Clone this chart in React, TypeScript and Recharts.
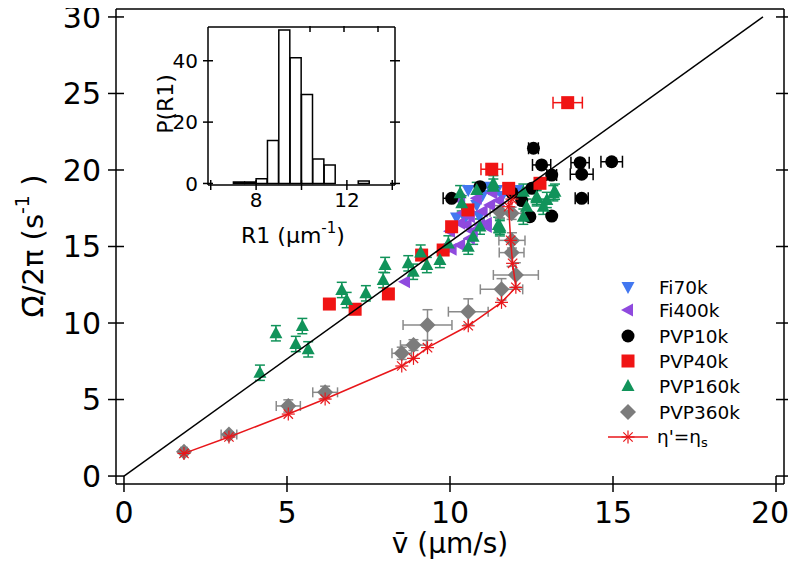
import React from "react";
import { ScatterChart, Scatter, XAxis, YAxis, ErrorBar, BarChart, Bar } from "recharts";

const FONT = "'DejaVu Sans', 'Liberation Sans', sans-serif";

// main axes
const xTicks = [0, 5, 10, 15, 20];
const yTicks = [0, 5, 10, 15, 20, 25, 30];

// inset histogram of R1 (um^-1), bins 0.5 wide
const binCenters = [7.25, 7.75, 8.25, 8.75, 9.25, 9.75, 10.25, 10.75, 11.25, 11.75, 12.25, 12.75];
const binCounts = [0.5, 0.5, 1.5, 14, 50, 41, 29, 8, 6, 0, 0, 0.8];
const insetXTicks = [6, 8, 10, 12, 14];
const insetXLabels = [8, 12];
const insetYTicks = [0, 20, 40];

// [v, Omega/2pi]
const fi70k = [
  [10.46, 16.84], [10.56, 18.69], [11.0, 18.37], [12.05, 18.69], [11.43, 18.69],
  [10.82, 17.71], [10.2, 16.9], [11.6, 18.3], [11.2, 18.9], [10.9, 17.0],
];
const fi400k = [
  [8.62, 12.7], [10.05, 14.82], [10.31, 15.1], [10.61, 15.54], [10.92, 16.41],
  [11.13, 16.52], [10.51, 16.41], [10.31, 18.04], [10.82, 18.15], [11.23, 17.71],
  [10.61, 16.95], [11.13, 16.3], [10.31, 16.52], [9.85, 15.0], [10.0, 16.0],
  [11.5, 18.0], [11.0, 17.3], [10.7, 16.0], [11.3, 18.5], [10.4, 17.2],
];
// [v, Omega/2pi, v error]
const pvp10k = [
  [10.05, 18.15, 0.26], [12.56, 21.42, 0.15], [12.81, 20.33, 0.28], [13.12, 19.67, 0.15],
  [13.12, 16.99, 0], [13.99, 20.48, 0.28], [14.04, 19.72, 0.35], [14.96, 20.54, 0.33],
  [14.04, 18.15, 0.2], [12.51, 18.8, 0], [12.45, 16.95, 0], [10.92, 18.91, 0],
  [12.2, 18.0, 0], [11.9, 18.5, 0],
];
const pvp40k = [
  [6.3, 11.24, 0], [7.09, 10.9, 0], [8.11, 11.9, 0], [9.13, 14.44, 0], [9.79, 14.77, 0],
  [10.05, 16.29, 0], [10.55, 17.39, 0], [11.28, 20.05, 0.33], [13.61, 24.4, 0.45],
  [12.76, 19.13, 0], [11.8, 18.8, 0],
];
// [v, Omega/2pi, Omega error]
const pvp160k = [
  [4.17, 6.75, 0.5], [4.66, 9.33, 0.5], [5.27, 8.63, 0.5], [5.47, 9.8, 0.5], [5.65, 8.28, 0.5],
  [6.68, 12.16, 0.5], [6.83, 11.5, 0.5], [7.42, 11.94, 0.5], [8.01, 13.79, 0.5], [7.95, 12.81, 0.5],
  [8.72, 13.9, 0.5], [8.87, 13.35, 0.5], [9.29, 13.79, 0.5], [9.69, 14.12, 0.5], [10.56, 14.99, 0.5],
  [10.71, 15.64, 0.5], [11.53, 16.19, 0.5], [11.33, 19.13, 0.5], [11.53, 16.3, 0.5], [13.22, 18.58, 0.5],
  [12.97, 18.04, 0.5], [12.66, 18.25, 0.5], [12.35, 17.6, 0.5], [12.25, 16.95, 0.5], [12.86, 17.6, 0.5],
  [11.33, 18.91, 0.5], [10.82, 18.69, 0.5], [10.31, 18.48, 0.5], [12.25, 18.58, 0.5], [13.17, 18.48, 0.5],
  [12.66, 18.15, 0.5], [11.48, 16.41, 0.5], [10.92, 16.3, 0.5], [10.36, 17.82, 0.5], [9.1, 14.6, 0.5],
  [9.95, 15.2, 0.5],
];
// [v, Omega/2pi, v error, Omega error]
const pvp360k = [
  [1.84, 1.59, 0.1, 0.1], [3.22, 2.72, 0.24, 0.15], [5.04, 4.58, 0.37, 0.4], [6.17, 5.47, 0.38, 0.4],
  [8.52, 8.02, 0.3, 0.4], [8.88, 8.56, 0.4, 0.35], [9.31, 9.87, 0.75, 1.0], [10.56, 10.74, 0.61, 0.84],
  [11.58, 12.2, 0.65, 0.7], [12.02, 13.14, 0.69, 0.8], [11.89, 14.6, 0.38, 0.9], [11.9, 15.4, 0.4, 0.5],
  [11.53, 17.27, 0.3, 0.4], [11.89, 17.17, 0.3, 0.4],
];
// model curve eta' = eta_s
const etaS = [
  [1.84, 1.48], [3.22, 2.55], [5.04, 4.05], [6.17, 5.03], [8.52, 7.19], [8.88, 7.69],
  [9.31, 8.39], [10.56, 9.82], [11.58, 11.35], [12.02, 12.33], [11.92, 13.9], [11.86, 15.4],
  [11.8, 17.6], [11.9, 18.1],
];
const slopeLine = [[0, 0], [19.6, 30]];

const legendNames = ["Fi70k", "Fi400k", "PVP10k", "PVP40k", "PVP160k", "PVP360k"];

const C = {
  blue: "#4277f0",
  purple: "#8f4ade",
  black: "#000000",
  red: "#f01414",
  green: "#11935a",
  gray: "#7c7c7c",
  line: "#e8161a",
};

const pts = (a: number[][]) => a.map(([x, y, e1, e2]) => ({ x, y, e1, e2 }));
const hist = binCenters.map((c, i) => ({ c, n: binCounts[i] }));

type Side = "bottom" | "top" | "left" | "right";
const crossTick =
  (side: Side, len: number, fontSize = 0, gap = 0, only?: number[], lastShift = 0) =>
  (p: any) => {
    const { x, y, payload, index, visibleTicksCount } = p;
    const v = payload.value;
    const show = fontSize > 0 && (!only || only.includes(v));
    const horiz = side === "bottom" || side === "top";
    const tx = index === visibleTicksCount - 1 ? x + lastShift : x;
    return (
      <g>
        {horiz ? (
          <line x1={x} x2={x} y1={y - len} y2={y + len} stroke="#000" strokeWidth={1.5} />
        ) : (
          <line x1={x - len} x2={x + len} y1={y} y2={y} stroke="#000" strokeWidth={1.5} />
        )}
        {show && side === "bottom" && (
          <text x={tx} y={y + gap} textAnchor="middle" fontSize={fontSize} fontFamily={FONT} fill="#000">
            {v}
          </text>
        )}
        {show && side === "left" && (
          <text x={x - gap} y={y + fontSize * 0.36} textAnchor="end" fontSize={fontSize} fontFamily={FONT} fill="#000">
            {v}
          </text>
        )}
      </g>
    );
  };

const downTri = (p: any) => (
  <polygon points={`${p.cx - 6.5},${p.cy - 5} ${p.cx + 6.5},${p.cy - 5} ${p.cx},${p.cy + 7}`} fill={C.blue} />
);
const leftTri = (p: any) => (
  <polygon points={`${p.cx - 7},${p.cy} ${p.cx + 5},${p.cy - 6.5} ${p.cx + 5},${p.cy + 6.5}`} fill={C.purple} />
);
const dot = (p: any) => <circle cx={p.cx} cy={p.cy} r={6.5} fill={C.black} />;
const square = (p: any) => <rect x={p.cx - 6.5} y={p.cy - 6.5} width={13} height={13} fill={C.red} />;
const upTri = (p: any) => (
  <polygon points={`${p.cx},${p.cy - 7} ${p.cx - 6.5},${p.cy + 5} ${p.cx + 6.5},${p.cy + 5}`} fill={C.green} />
);
const diamond = (p: any) => (
  <polygon points={`${p.cx},${p.cy - 8} ${p.cx + 8},${p.cy} ${p.cx},${p.cy + 8} ${p.cx - 8},${p.cy}`} fill={C.gray} />
);
const star = (p: any) => {
  const r = 6.5;
  const d = r * 0.72;
  return (
    <g stroke={C.line} strokeWidth={1.2}>
      <line x1={p.cx - r} x2={p.cx + r} y1={p.cy} y2={p.cy} />
      <line x1={p.cx} x2={p.cx} y1={p.cy - r} y2={p.cy + r} />
      <line x1={p.cx - d} x2={p.cx + d} y1={p.cy - d} y2={p.cy + d} />
      <line x1={p.cx - d} x2={p.cx + d} y1={p.cy + d} y2={p.cy - d} />
    </g>
  );
};
const none = () => <g />;

const legendShapes = [downTri, leftTri, dot, square, upTri, diamond];

function LegendBox() {
  const rowY = [17, 40, 66, 91, 116, 142, 167];
  return (
    <svg width={190} height={185} style={{ position: "absolute", left: 592, top: 270 }}>
      {legendNames.map((name, i) => (
        <g key={name}>
          {legendShapes[i]({ cx: 28, cy: rowY[i] })}
          <text x={59} y={rowY[i] + 7} fontSize={18.5} fontFamily={FONT}>
            {name}
          </text>
        </g>
      ))}
      <line x1={8} x2={48} y1={rowY[6]} y2={rowY[6]} stroke={C.line} strokeWidth={1.5} />
      {star({ cx: 28, cy: rowY[6] })}
      <text x={57} y={rowY[6] + 6} fontSize={18.5} fontFamily={FONT}>
        η'=η<tspan fontSize={13} dy={4}>s</tspan>
      </text>
    </svg>
  );
}

function Inset() {
  const dom: [number, number] = [5.88, 14.12];
  const ydom: [number, number] = [-0.5, 51];
  const axisLine = { stroke: "#000", strokeWidth: 1.5 };
  return (
    <div style={{ position: "absolute", left: 140, top: 26 }}>
      <BarChart width={252} height={224} data={hist} margin={{ top: 0, right: 0, bottom: 0, left: 0 }} barCategoryGap={0} barGap={0}>
        <XAxis
          type="number"
          dataKey="c"
          domain={dom}
          ticks={insetXTicks}
          allowDataOverflow
          height={65}
          tickSize={0}
          tickMargin={0}
          tickLine={false}
          axisLine={axisLine}
          tick={crossTick("bottom", 5, 20, 22, insetXLabels)}
          interval={0}
          label={{
            content: () => (
              <text x={145} y={217} textAnchor="middle" fontSize={22} fontFamily={FONT}>
                R1 (μm<tspan fontSize={15} dy={-10}>-1</tspan>
                <tspan dy={10}>)</tspan>
              </text>
            ),
          }}
        />
        <XAxis xAxisId="top" orientation="top" type="number" domain={dom} ticks={insetXTicks} allowDataOverflow height={1}
          tickSize={0} tickMargin={0} tickLine={false} axisLine={axisLine} tick={crossTick("top", 5)} interval={0} />
        <YAxis
          type="number"
          domain={ydom}
          ticks={insetYTicks}
          allowDataOverflow
          width={60}
          tickSize={0}
          tickMargin={0}
          tickLine={false}
          axisLine={axisLine}
          tick={crossTick("left", 5, 20, 10)}
          interval={0}
          label={{
            content: () => (
              <text x={19} y={78} transform="rotate(-90, 19, 78)" textAnchor="middle" dominantBaseline="middle" fontSize={22} fontFamily={FONT}>
                P(R1)
              </text>
            ),
          }}
        />
        <YAxis yAxisId="right" orientation="right" type="number" domain={ydom} ticks={insetYTicks} allowDataOverflow width={5}
          tickSize={0} tickMargin={0} tickLine={false} axisLine={axisLine} tick={crossTick("right", 5)} interval={0} />
        <Bar dataKey="n" fill="#fff" stroke="#000" strokeWidth={1.5} isAnimationActive={false} />
      </BarChart>
    </div>
  );
}

export default function App() {
  const xdom: [number, number] = [-0.245, 20.245];
  const ydom: [number, number] = [-0.52, 30.52];
  const axisLine = { stroke: "#000", strokeWidth: 1.5 };
  // body margin is 8px; pull the chart up so the top tick label is not clipped
  return (
    <div style={{ position: "relative", marginTop: -8, width: 780, height: 562, fontFamily: FONT }}>
      <ScatterChart width={780} height={562} margin={{ top: 8, right: 0, bottom: 0, left: 0 }}>
        <XAxis
          type="number"
          dataKey="x"
          domain={xdom}
          ticks={xTicks}
          allowDataOverflow
          height={78}
          tickSize={0}
          tickMargin={0}
          tickLine={false}
          axisLine={axisLine}
          tick={crossTick("bottom", 8, 30, 39, undefined, -6)}
          interval={0}
          label={{
            content: () => (
              <text x={442} y={553} textAnchor="middle" fontSize={28} fontFamily={FONT}>
                v̄ (μm/s)
              </text>
            ),
          }}
        />
        <XAxis xAxisId="top" orientation="top" type="number" domain={xdom} ticks={xTicks} allowDataOverflow height={1}
          tickSize={0} tickMargin={0} tickLine={false} axisLine={axisLine} tick={crossTick("top", 8)} interval={0} />
        <YAxis
          type="number"
          dataKey="y"
          domain={ydom}
          ticks={yTicks}
          allowDataOverflow
          width={108}
          tickSize={0}
          tickMargin={0}
          tickLine={false}
          axisLine={axisLine}
          tick={crossTick("left", 8, 30, 15)}
          interval={0}
          label={{
            content: () => (
              <text x={27} y={246} transform="rotate(-90, 27, 246)" textAnchor="middle" dominantBaseline="middle" fontSize={29} fontFamily={FONT}>
                Ω̄/2π (s<tspan fontSize={19} dy={-12}>-1</tspan>
                <tspan dy={12}> )</tspan>
              </text>
            ),
          }}
        />
        <YAxis yAxisId="right" orientation="right" type="number" domain={ydom} ticks={yTicks} allowDataOverflow width={4}
          tickSize={0} tickMargin={0} tickLine={false} axisLine={axisLine} tick={crossTick("right", 8)} interval={0} />

        <Scatter name="Fi70k" data={pts(fi70k)} shape={downTri} isAnimationActive={false} />
        <Scatter name="Fi400k" data={pts(fi400k)} shape={leftTri} isAnimationActive={false} />
        <Scatter name="PVP10k" data={pts(pvp10k)} shape={dot} isAnimationActive={false}>
          <ErrorBar dataKey="e1" direction="x" width={6} stroke={C.black} strokeWidth={1.5} />
        </Scatter>
        <Scatter name="PVP40k" data={pts(pvp40k)} shape={square} isAnimationActive={false}>
          <ErrorBar dataKey="e1" direction="x" width={6} stroke={C.red} strokeWidth={1.5} />
        </Scatter>
        <Scatter name="PVP160k" data={pts(pvp160k)} shape={upTri} isAnimationActive={false}>
          <ErrorBar dataKey="e1" direction="y" width={5} stroke={C.green} strokeWidth={1.5} />
        </Scatter>
        <Scatter name="PVP360k" data={pts(pvp360k)} shape={diamond} isAnimationActive={false}>
          <ErrorBar dataKey="e1" direction="x" width={5} stroke="#8a8a8a" strokeWidth={1.5} />
          <ErrorBar dataKey="e2" direction="y" width={5} stroke="#8a8a8a" strokeWidth={1.5} />
        </Scatter>
        <Scatter name="eta" data={pts(etaS)} shape={star} line={{ stroke: C.line, strokeWidth: 1.5 }} isAnimationActive={false} />
        <Scatter name="fit" data={pts(slopeLine)} shape={none} line={{ stroke: "#000", strokeWidth: 1.5 }} isAnimationActive={false} />
      </ScatterChart>
      <Inset />
      <LegendBox />
    </div>
  );
}
